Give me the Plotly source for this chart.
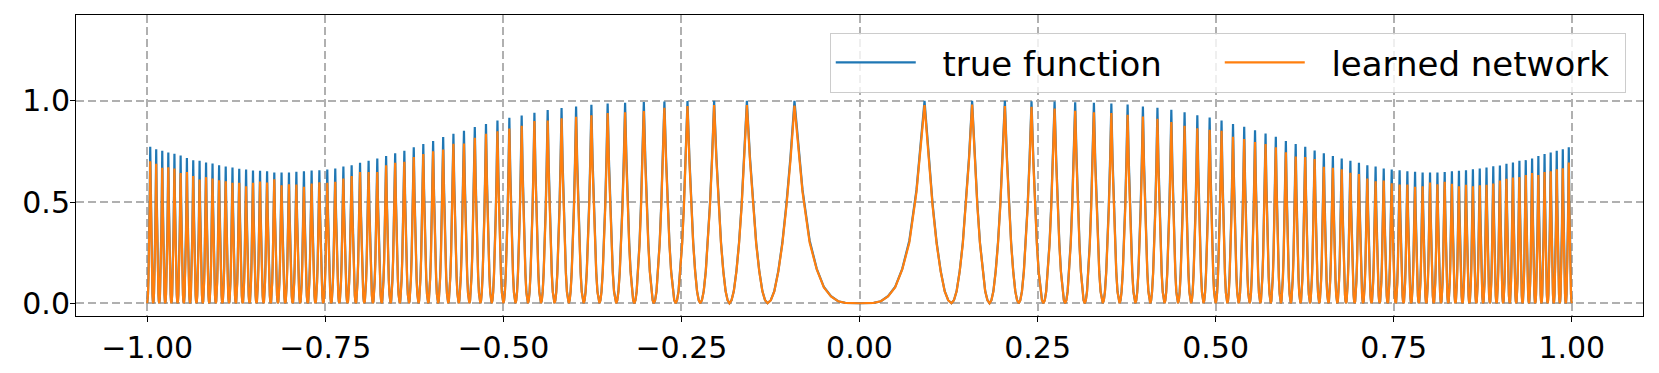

import plotly.graph_objects as go

# positions des pics (côté x > 0, symétrique à gauche) et des zéros entre les pics
peak_x = [
    0.0913, 0.1581, 0.2041, 0.2415, 0.2739, 0.3028, 0.3291, 0.3536, 0.3764, 0.3979,
    0.4183, 0.4378, 0.4564, 0.4743, 0.4916, 0.5083, 0.5244, 0.5401, 0.5553, 0.5701,
    0.5845, 0.5986, 0.6124, 0.6258, 0.6390, 0.6519, 0.6646, 0.6770, 0.6892, 0.7012,
    0.7130, 0.7246, 0.7360, 0.7472, 0.7583, 0.7692, 0.7800, 0.7906, 0.8010, 0.8114,
    0.8216, 0.8317, 0.8416, 0.8515, 0.8612, 0.8708, 0.8803, 0.8898, 0.8991, 0.9083,
    0.9174, 0.9265, 0.9354, 0.9443, 0.9531, 0.9618, 0.9704, 0.9789, 0.9874, 0.9958,
]
trough_x = [
    0.1291, 0.1826, 0.2236, 0.2582, 0.2887, 0.3162, 0.3416, 0.3651, 0.3873, 0.4082,
    0.4282, 0.4472, 0.4655, 0.4830, 0.5000, 0.5164, 0.5323, 0.5477, 0.5627, 0.5774,
    0.5916, 0.6055, 0.6191, 0.6325, 0.6455, 0.6583, 0.6708, 0.6831, 0.6952, 0.7071,
    0.7188, 0.7303, 0.7416, 0.7528, 0.7638, 0.7746, 0.7853, 0.7958, 0.8062, 0.8165,
    0.8266, 0.8367, 0.8466, 0.8563, 0.8660, 0.8756, 0.8851, 0.8944, 0.9037, 0.9129,
    0.9220, 0.9309, 0.9399, 0.9487, 0.9574, 0.9661, 0.9747, 0.9832, 0.9916, 1.0000,
]

# hauteurs des pics, côté gauche lu de x=-1 vers 0, côté droit de 0 vers x=1
true_left = [
    0.773, 0.761, 0.753, 0.745, 0.738, 0.730, 0.717, 0.707, 0.704, 0.695,
    0.690, 0.682, 0.676, 0.671, 0.664, 0.661, 0.656, 0.654, 0.652, 0.646,
    0.646, 0.646, 0.649, 0.652, 0.656, 0.657, 0.661, 0.666, 0.676, 0.682,
    0.694, 0.704, 0.715, 0.727, 0.741, 0.753, 0.771, 0.786, 0.801, 0.821,
    0.837, 0.852, 0.870, 0.885, 0.903, 0.916, 0.928, 0.941, 0.954, 0.964,
    0.972, 0.980, 0.987, 0.990, 0.994, 0.997, 0.999, 1.000, 1.000, 1.000,
]
true_right = [
    1.000, 1.000, 1.000, 0.998, 0.996, 0.993, 0.990, 0.987, 0.982, 0.972,
    0.966, 0.956, 0.943, 0.929, 0.918, 0.903, 0.886, 0.872, 0.854, 0.839,
    0.822, 0.802, 0.786, 0.773, 0.755, 0.741, 0.727, 0.715, 0.704, 0.694,
    0.682, 0.676, 0.666, 0.661, 0.657, 0.652, 0.649, 0.646, 0.646, 0.646,
    0.648, 0.652, 0.654, 0.657, 0.662, 0.666, 0.671, 0.677, 0.681, 0.689,
    0.695, 0.704, 0.707, 0.715, 0.727, 0.737, 0.745, 0.753, 0.761, 0.771,
]
net_left = [
    0.702, 0.689, 0.669, 0.672, 0.666, 0.644, 0.648, 0.628, 0.611, 0.623,
    0.616, 0.608, 0.603, 0.595, 0.595, 0.578, 0.595, 0.601, 0.596, 0.613,
    0.583, 0.588, 0.587, 0.575, 0.592, 0.598, 0.595, 0.600, 0.616, 0.629,
    0.648, 0.648, 0.648, 0.682, 0.694, 0.699, 0.722, 0.737, 0.751, 0.760,
    0.788, 0.789, 0.817, 0.837, 0.849, 0.863, 0.877, 0.900, 0.903, 0.914,
    0.921, 0.929, 0.940, 0.943, 0.949, 0.966, 0.974, 0.979, 0.979, 0.976,
]
net_right = [
    0.979, 0.982, 0.974, 0.970, 0.962, 0.951, 0.943, 0.940, 0.931, 0.923,
    0.911, 0.895, 0.877, 0.865, 0.857, 0.852, 0.822, 0.811, 0.796, 0.786,
    0.770, 0.746, 0.725, 0.722, 0.713, 0.674, 0.669, 0.662, 0.644, 0.639,
    0.616, 0.603, 0.606, 0.593, 0.587, 0.587, 0.575, 0.578, 0.596, 0.588,
    0.600, 0.590, 0.578, 0.585, 0.578, 0.583, 0.585, 0.592, 0.606, 0.615,
    0.621, 0.623, 0.633, 0.643, 0.633, 0.648, 0.652, 0.662, 0.667, 0.695,
]

# creux central (x >= 0, avant le premier pic)
center_x = [0.0, 0.02, 0.03, 0.04, 0.05, 0.06, 0.07, 0.08]
center_true = [0.0, 0.002, 0.010, 0.035, 0.080, 0.170, 0.310, 0.560]
center_net = [0.0, 0.002, 0.010, 0.034, 0.078, 0.167, 0.300, 0.550]

# profil d'un flanc de pic : fraction creux -> pic et fraction de la hauteur
spike_t = [0.0, 0.12, 0.25, 0.4, 0.55, 0.7, 0.85, 1.0]
spike_level = [0.0, 0.015, 0.06, 0.16, 0.30, 0.49, 0.72, 1.0]

FONT = "DejaVu Sans"
BLUE = "#1f77b4"
ORANGE = "#ff7f0e"
NBSP = "\u00a0"


def half_curve(peaks, center_vals):
    xs, ys = list(center_x), list(center_vals)
    for n, (px, h) in enumerate(zip(peak_x, peaks)):
        if n > 0:
            tr = trough_x[n - 1]
            for t, lv in zip(spike_t[1:-1], spike_level[1:-1]):
                xs.append(tr + (px - tr) * t)
                ys.append(h * lv)
        xs.append(px)
        ys.append(h)
        tr = trough_x[n]
        for t, lv in zip(spike_t[-2:0:-1], spike_level[-2:0:-1]):
            xs.append(tr + (px - tr) * t)
            ys.append(h * lv)
        xs.append(tr)
        ys.append(0.0)
    return xs, ys


def full_curve(left, right, center_vals):
    lx, ly = half_curve(left[::-1], center_vals)
    rx, ry = half_curve(right, center_vals)
    xs = [-x for x in lx[::-1]][:-1] + rx
    ys = ly[::-1][:-1] + ry
    return xs, ys


tx, ty = full_curve(true_left, true_right, center_true)
nx, ny = full_curve(net_left, net_right, center_net)

fig = go.Figure()
fig.add_trace(go.Scatter(x=tx, y=ty, mode="lines", name=NBSP * 2 + "true function",
                         line=dict(color=BLUE, width=2.2), legendwidth=294))
fig.add_trace(go.Scatter(x=nx, y=ny, mode="lines", name=NBSP * 2 + "learned network",
                         line=dict(color=ORANGE, width=2.2), legendwidth=310))

axis_common = dict(
    showline=True, linecolor="black", linewidth=1, mirror=True,
    ticks="outside", ticklen=5, tickwidth=1, tickcolor="black",
    showgrid=True, gridcolor="#b0b0b0", gridwidth=1.5, griddash="8px,4px",
    zeroline=False, tickfont=dict(family=FONT, size=30, color="black"),
)
fig.update_xaxes(range=[-1.1, 1.1], tickmode="linear", tick0=-1, dtick=0.25,
                 tickformat=".2f", **axis_common)
fig.update_yaxes(range=[-0.063, 1.424], tickvals=[0, 0.5, 1.0],
                 tickformat=".1f", ticklabelstandoff=-6, **axis_common)

# la page ajoute 8 px de marge au body : figure réduite d'autant
fig.update_layout(
    width=1651,
    height=365,
    margin=dict(l=68, r=16, t=7, b=57),
    plot_bgcolor="white",
    paper_bgcolor="white",
    font=dict(family=FONT, color="black"),
    showlegend=True,
    legend=dict(
        orientation="h",
        x=0.989, xanchor="right",
        y=0.941, yanchor="top",
        bgcolor="rgba(255,255,255,0.8)",
        bordercolor="#cccccc", borderwidth=1,
        font=dict(family=FONT, size=34, color="black"),
        itemwidth=80,
    ),
)

fig.write_html("out.html")
